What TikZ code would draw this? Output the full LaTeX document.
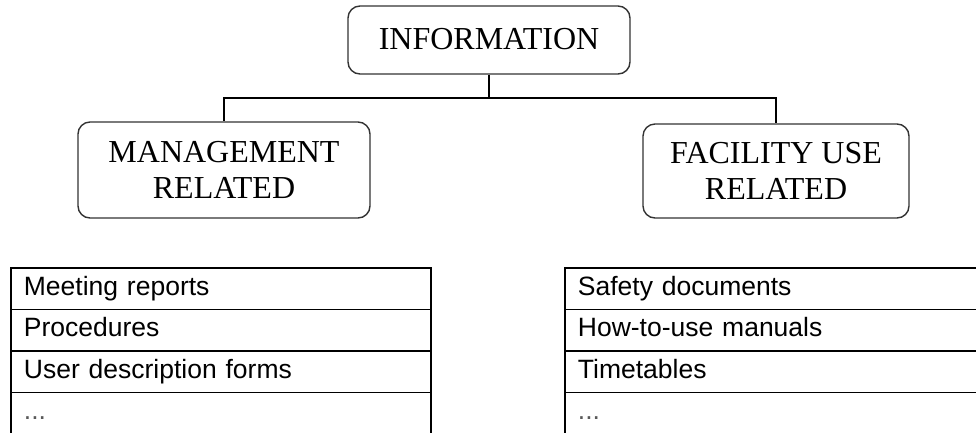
\documentclass[tikz,border=0pt]{standalone}
\usepackage{fontspec}
\setmainfont{Liberation Serif}
\setsansfont{Liberation Sans}
\begin{document}
\begin{tikzpicture}[x=1pt,y=-1pt,
  catbox/.style={draw=black!80, line width=1.4pt, rounded corners=12pt,
    align=center, font=\fontsize{32}{36}\selectfont, inner sep=0pt},
  link/.style={draw=black, line width=1.8pt},
  itemrow/.style={draw=black, line width=1.8pt, anchor=north west,
    minimum width=420pt, minimum height=41.5pt, inner xsep=13pt, inner ysep=0pt,
    text width=394pt, align=left, text height=18.5pt, text depth=5.5pt,
    font=\fontsize{26.5}{30}\sffamily\selectfont},
  dots/.style={text=black!65}]
\useasboundingbox (0,0) rectangle (976,432);

% category boxes
\node[catbox, minimum width=282pt, minimum height=68pt, text depth=3pt] (info) at (489,40) {INFORMATION};
\node[catbox, minimum width=292pt, minimum height=96pt] (mgmt) at (224,170) {MANAGEMENT\\RELATED};
\node[catbox, minimum width=266pt, minimum height=94pt] (fac) at (776,171) {FACILITY USE\\RELATED};

% tree connectors
\draw[link] (info.south) -- ++(0,23) coordinate (bus);
\draw[link] (bus) -| (mgmt.north);
\draw[link] (bus) -| (fac.north);

% management related items
\node[itemrow] (m1) at (10,267) {Meeting reports};
\node[itemrow] (m2) at (10,308.5) {Procedures};
\node[itemrow] (m3) at (10,350) {User description forms};
\node[itemrow] (m4) at (10,391.5) {\textcolor{black!65}{...}};

% facility use related items
\node[itemrow, minimum width=440pt, text width=414pt] (f1) at (564,267) {Safety documents};
\node[itemrow, minimum width=440pt, text width=414pt] (f2) at (564,308.5) {How-to-use manuals};
\node[itemrow, minimum width=440pt, text width=414pt] (f3) at (564,350) {Timetables};
\node[itemrow, minimum width=440pt, text width=414pt] (f4) at (564,391.5) {\textcolor{black!65}{...}};
\end{tikzpicture}
\end{document}
